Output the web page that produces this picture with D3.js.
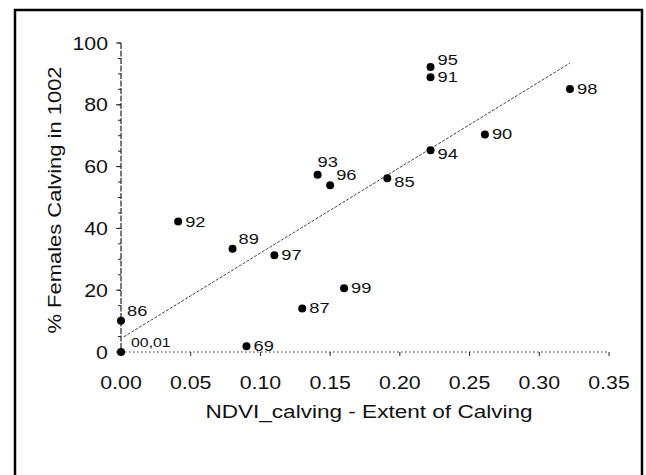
<!DOCTYPE html>
<html><head><meta charset="utf-8">
<script src="https://cdn.jsdelivr.net/npm/d3@7"></script>
<style>
body{margin:0;background:#fff;}
text{font-family:"Liberation Sans",Arial,sans-serif;fill:#111;}
</style></head>
<body><svg id="c" width="646" height="475"></svg>
<script>
// Data
const labels = ["86","00,01","92","89","97","69","87","99","93","96","85","94","95","91","90","98"];
const ndvi   = [0.0, 0.0, 0.041, 0.080, 0.110, 0.090, 0.130, 0.160, 0.141, 0.150, 0.191, 0.222, 0.222, 0.222, 0.261, 0.322];
const pct    = [10.1, 0, 42.2, 33.4, 31.3, 1.9, 14.1, 20.6, 57.4, 54.0, 56.2, 65.3, 92.2, 88.9, 70.4, 85.1];
const trendX = [0.002, 0.322];
const trendY = [4.9, 93.5];
const xTicks = [0, 0.05, 0.10, 0.15, 0.20, 0.25, 0.30, 0.35];
const yTicks = [0, 20, 40, 60, 80, 100];
const xTitle = "NDVI_calving - Extent of Calving";
const yTitle = "% Females Calving in 1002";

// label placement codes (r = right, ur = upper right, u = above)
const place = {"86":"ur","00,01":"ur0","89":"ur","69":"r","93":"u","96":"ur","85":"rd","94":"rd","95":"ru"};

const svg = d3.select("#c");
const x = d3.scaleLinear().domain([0, 0.35]).range([121, 609]);
const y = d3.scaleLinear().domain([0, 100]).range([352, 43]);
const SX = 1.22; // horizontal stretch of the scanned type

// frame
svg.append("rect").attr("x",15).attr("y",10).attr("width",627).attr("height",480)
  .attr("fill","none").attr("stroke","#000").attr("stroke-width",2.5);

function stext(g, tx, ty, str, size, anchor){
  return g.append("text")
    .attr("transform",`translate(${tx},${ty}) scale(${SX},1)`)
    .attr("font-size",size).attr("text-anchor",anchor).text(str);
}

// y axis
const ya = svg.append("g");
ya.append("line").attr("x1",x(0)).attr("x2",x(0)).attr("y1",y(100)).attr("y2",y(0))
  .attr("stroke","#222").attr("stroke-width",1.2).attr("stroke-dasharray","6,1.5");
ya.selectAll("line.minor").data(d3.range(0,101,5)).join("line").attr("class","minor")
  .attr("x1",x(0)-3).attr("x2",x(0)).attr("y1",d=>y(d)).attr("y2",d=>y(d))
  .attr("stroke","#222").attr("stroke-width",1);
ya.selectAll("line.major").data(yTicks).join("line").attr("class","major")
  .attr("x1",x(0)-5).attr("x2",x(0)).attr("y1",d=>y(d)).attr("y2",d=>y(d))
  .attr("stroke","#222").attr("stroke-width",1);
yTicks.forEach(t => stext(ya, 108, y(t)+6.5, String(t), 17.5, "end"));

// x axis
const xa = svg.append("g");
xa.append("line").attr("x1",x(0)).attr("x2",x(0.35)).attr("y1",y(0)).attr("y2",y(0))
  .attr("stroke","#333").attr("stroke-width",1.2).attr("stroke-dasharray","1.5,2.5");
xa.selectAll("line.tk").data(xTicks).join("line").attr("class","tk")
  .attr("x1",d=>x(d)).attr("x2",d=>x(d)).attr("y1",y(0)).attr("y2",y(0)+4)
  .attr("stroke","#222").attr("stroke-width",1);
xTicks.forEach(t => stext(xa, x(t), 389, t.toFixed(2), 17.5, "middle"));

// titles
stext(svg, 369, 418, xTitle, 18.5, "middle");
svg.append("text").attr("transform",`translate(61,200) rotate(-90) scale(${SX},1)`)
  .attr("font-size",18).attr("text-anchor","middle").text(yTitle);

// trend line
svg.append("line").attr("x1",x(trendX[0])).attr("y1",y(trendY[0]))
  .attr("x2",x(trendX[1])).attr("y2",y(trendY[1]))
  .attr("stroke","#444").attr("stroke-width",1).attr("stroke-dasharray","3,1.5");

// points
const pts = labels.map((l,i)=>({l, x:ndvi[i], y:pct[i]}));
svg.selectAll("circle.pt").data(pts).join("circle").attr("class","pt")
  .attr("cx",d=>x(d.x)).attr("cy",d=>y(d.y)).attr("r",4).attr("fill","#000");

const off = {r:[7,5], ur:[6,-5], ur0:[10,-5], u:[0,-8], rd:[7,9], ru:[7,-2]};
pts.forEach(d=>{
  const p = place[d.l] || "r";
  const [dx,dy] = off[p];
  stext(svg, x(d.x)+dx, y(d.y)+dy, d.l, p==="ur0"?13:15, "start");
});
</script></body></html>
